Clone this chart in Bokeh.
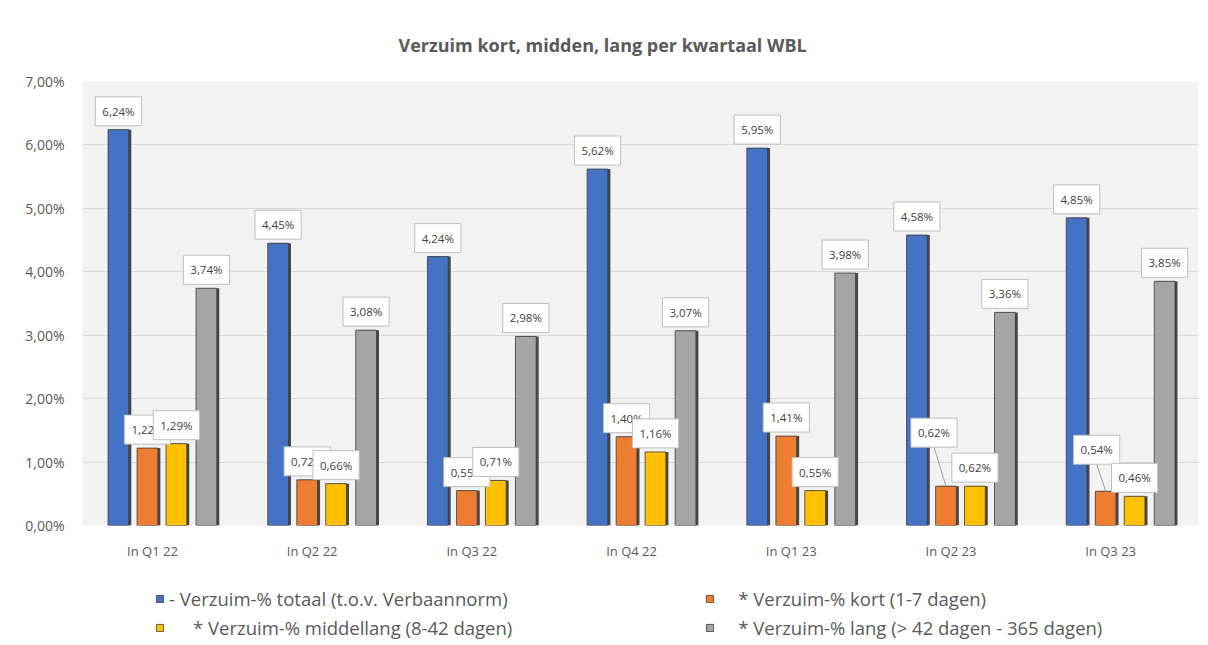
from bokeh.plotting import figure
from bokeh.layouts import column
from bokeh.models import (ColumnDataSource, Legend, LegendItem, FixedTicker,
                          CustomJSTickFormatter, Range1d)
from bokeh.core.properties import value
from bokeh.embed import file_html
from bokeh.resources import INLINE

# ---------------- data ----------------
quarters = ["In Q1 22", "In Q2 22", "In Q3 22", "In Q4 22", "In Q1 23", "In Q2 23", "In Q3 23"]
totaal = [6.24, 4.45, 4.24, 5.62, 5.95, 4.58, 4.85]
kort = [1.22, 0.72, 0.55, 1.40, 1.41, 0.62, 0.54]
middellang = [1.29, 0.66, 0.71, 1.16, 0.55, 0.62, 0.46]
lang = [3.74, 3.08, 2.98, 3.07, 3.98, 3.36, 3.85]
series_names = [
    "- Verzuim-% totaal (t.o.v. Verbaannorm)",
    "\u00a0\u00a0\u00a0\u00a0* Verzuim-% kort (1-7 dagen)",
    "\u00a0\u00a0\u00a0\u00a0\u00a0* Verzuim-% middellang (8-42 dagen)",
    "\u00a0\u00a0\u00a0\u00a0* Verzuim-% lang (> 42 dagen - 365 dagen)",
]
y_ticks = [0, 1, 2, 3, 4, 5, 6, 7]
title_text = "Verzuim kort, midden, lang per kwartaal WBL"

# ---------------- style ----------------
colors = ["#4472C4", "#ED7D31", "#FFC000", "#A5A5A5"]
offsets = [-0.213, -0.031, 0.150, 0.338]
bar_w = 0.13
FONT = "Open Sans"
GREY_TXT = "#595959"

W, H_MAIN, H_LEG = 1204, 580, 63
ML, MR, MT, MB = 82, 6, 81, 55
frame_w = W - ML - MR
frame_h = H_MAIN - MT - MB
x_start = -0.438
x_end = x_start + frame_w / 159.7
px_x = frame_w / (x_end - x_start)
px_y = frame_h / 7.0

# label displacement (px) for a few labels that were moved, per series
label_dx = [[0] * 7, [0, 0, 0, 0, 0, -12, -9], [0] * 7, [0] * 7]
label_dy = [[0] * 7, [0, 0, 0, 0, 0, 35, 23], [0] * 7, [0] * 7]

p = figure(width=W, height=H_MAIN, output_backend="svg", toolbar_location=None,
           x_range=Range1d(x_start, x_end), y_range=Range1d(0, 7),
           min_border_left=ML, min_border_right=MR, min_border_top=MT, min_border_bottom=MB,
           background_fill_color="#F2F2F2", border_fill_color="white", outline_line_color=None)

p.title.text = title_text
p.title.align = "left"
p.title.offset = 316
p.title.standoff = 49
p.title.text_font = FONT
p.title.text_font_size = "18px"
p.title.text_font_style = "bold"
p.title.text_color = GREY_TXT

p.xgrid.grid_line_color = None
p.ygrid.grid_line_color = "#D9D9D9"
p.ygrid.ticker = FixedTicker(ticks=y_ticks)

p.yaxis.ticker = FixedTicker(ticks=y_ticks)
p.yaxis.formatter = CustomJSTickFormatter(code="return tick.toFixed(2).replace('.', ',') + '%';")
p.xaxis.ticker = FixedTicker(ticks=list(range(len(quarters))))
p.xaxis.major_label_overrides = {i: q for i, q in enumerate(quarters)}
for ax in (p.xaxis, p.yaxis):
    ax.axis_line_color = None
    ax.major_tick_line_color = None
    ax.minor_tick_line_color = None
    ax.major_label_text_font = FONT
    ax.major_label_text_color = GREY_TXT
p.yaxis.major_label_text_font_size = "14px"
p.xaxis.major_label_text_font_size = "13px"
p.yaxis.major_label_standoff = 12
p.xaxis.major_label_standoff = 10

series = [totaal, kort, middellang, lang]
bars = []
sources = []
for s, vals in enumerate(series):
    xs = [i + offsets[s] for i in range(len(quarters))]
    src = ColumnDataSource(dict(x=xs, top=vals))
    sh = ColumnDataSource(dict(x=[v + 2.5 / px_x for v in xs], top=vals))
    p.vbar(x="x", top="top", width=bar_w, source=sh, fill_color="#2b2b2b",
           line_color=None, fill_alpha=0.85)
    r = p.vbar(x="x", top="top", width=bar_w, source=src, fill_color=colors[s],
               line_color="#3a3a3a", line_width=0.8)
    bars.append(r)
    sources.append(src)

# leader lines for moved labels
for s, vals in enumerate(series):
    for i, v in enumerate(vals):
        if label_dy[s][i] > 0:
            x0 = i + offsets[s]
            p.segment(x0=[x0], y0=[v], x1=[x0 + label_dx[s][i] / px_x],
                      y1=[v + (label_dy[s][i] + 4) / px_y], line_color="#A0A0A0", line_width=1)

# data labels
pad = 7
for s, vals in enumerate(series):
    xs = [i + offsets[s] for i in range(len(quarters))]
    txt = [f"{v:.2f}".replace(".", ",") + "%" for v in vals]
    src = ColumnDataSource(dict(x=xs, y=vals, t=txt,
                                dx=label_dx[s], dy=[-(4 + d) for d in label_dy[s]]))
    p.text(x="x", y="y", text="t", source=src, x_offset="dx", y_offset="dy",
           text_align="center", text_baseline="bottom",
           text_font=value(FONT), text_font_size="11.5px", text_color="#404040",
           background_fill_color="white", border_line_color="#BFBFBF",
           border_line_width=1, padding=pad)

# ---------------- legend strip (separate figure below the chart) ----------------
pl = figure(width=W, height=H_LEG, output_backend="svg", toolbar_location=None,
            x_range=Range1d(x_start, x_end), y_range=Range1d(100, 101),
            x_axis_location=None, y_axis_location=None,
            min_border=0, outline_line_color=None, background_fill_color="white",
            border_fill_color="white")
pl.grid.visible = False
leg_r = []
for s in range(4):
    leg_r.append(pl.vbar(x="x", top="top", width=bar_w, source=sources[s],
                         fill_color=colors[s], line_color="#3a3a3a", line_width=0.8))
legend = Legend(items=[LegendItem(label=series_names[k], renderers=[leg_r[k]]) for k in range(4)],
                orientation="horizontal", ncols=2, location=(73, 1),
                padding=0, margin=0, border_line_color=None, background_fill_alpha=0,
                label_text_font=FONT, label_text_font_size="18.5px", label_text_color=GREY_TXT,
                glyph_width=9, glyph_height=9, label_standoff=5, spacing=0,
                label_height=29, label_width=536)
pl.add_layout(legend)

layout = column(p, pl, spacing=0)
open("out.html", "w").write(file_html(layout, INLINE))
